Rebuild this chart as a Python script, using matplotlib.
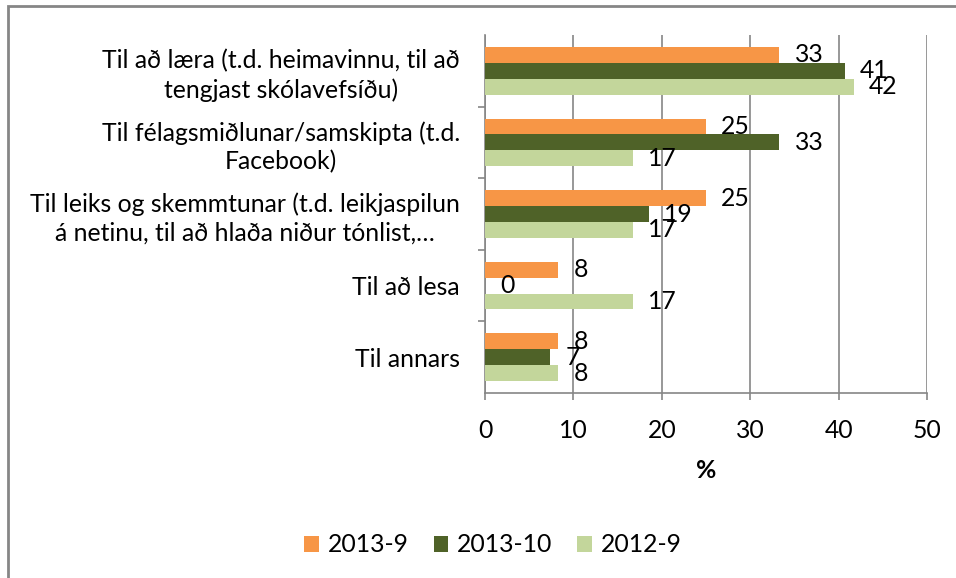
import matplotlib
matplotlib.use("Agg")
import matplotlib.pyplot as plt
import numpy as np
from matplotlib.patches import Rectangle

plt.rcParams['font.family'] = ['Lato', 'DejaVu Sans']

categories = [
    "Til að læra (t.d. heimavinnu, til að\ntengjast skólavefsíðu)",
    "Til félagsmiðlunar/samskipta (t.d.\nFacebook)",
    "Til leiks og skemmtunar (t.d. leikjaspilun\ná netinu, til að hlaða niður tónlist,…",
    "Til að lesa",
    "Til annars",
]
series_names = ["2013-9", "2013-10", "2012-9"]
s2013_9 = [33.3, 25.0, 25.0, 8.3, 8.3]
s2013_10 = [40.7, 33.3, 18.52, 0.0, 7.4]
s2012_9 = [41.7, 16.7, 16.7, 16.7, 8.3]
colors = ["#F79646", "#4F6228", "#C3D69B"]

fs = 17.8

fig = plt.figure(figsize=(9.56, 5.78), dpi=100)
ax = fig.add_axes([485 / 956, 1 - 393 / 578, 442 / 956, 358 / 578])

# outer chart frame
fig.patches.append(Rectangle((8 / 956, -0.05), 1.0, 1 - 6 / 578 + 0.05,
                             transform=fig.transFigure, fill=False,
                             edgecolor="#868686", linewidth=2.0))

y = np.arange(len(categories))
h = 0.222
for i, (vals, name) in enumerate(zip([s2013_9, s2013_10, s2012_9], series_names)):
    pos = y + (i - 1) * h
    ax.barh(pos, vals, height=h, color=colors[i], label=name, zorder=3)
    for p, v in zip(pos, vals):
        ax.annotate(f"{v:.0f}", (v, p), xytext=(11, 0), textcoords="offset points",
                    va="center", ha="left", fontsize=fs)

ax.set_ylim(len(categories) - 0.5, -0.5)
ax.set_xlim(0, 50)
ax.set_xticks(range(0, 51, 10))
ax.set_yticks(y)
ax.set_yticklabels(categories, multialignment="center", fontsize=fs, linespacing=1.3)
ax.set_yticks(np.arange(0.5, len(categories) - 0.5, 1), minor=True)
ax.tick_params(axis="y", which="major", length=0, pad=18)
ax.tick_params(axis="y", which="minor", length=5, color="#868686", width=1.2)
ax.tick_params(axis="x", length=5, color="#868686", width=1.2, labelsize=fs, pad=14)

ax.grid(axis="x", color="#868686", linewidth=1.2, zorder=0)
for s in ["top", "right"]:
    ax.spines[s].set_visible(False)
ax.spines["left"].set_color("#868686")
ax.spines["bottom"].set_color("#868686")
ax.spines["left"].set_linewidth(1.2)
ax.spines["bottom"].set_linewidth(1.2)

ax.set_xlabel("%", fontsize=fs, fontweight="bold", labelpad=12)

fig.legend(loc="center", bbox_to_anchor=(493 / 956, 1 - 545 / 578), ncol=3,
           frameon=False, fontsize=fs, handlelength=0.6, handleheight=0.6,
           columnspacing=1.0, handletextpad=0.35)

fig.savefig("out.png", dpi=100)
